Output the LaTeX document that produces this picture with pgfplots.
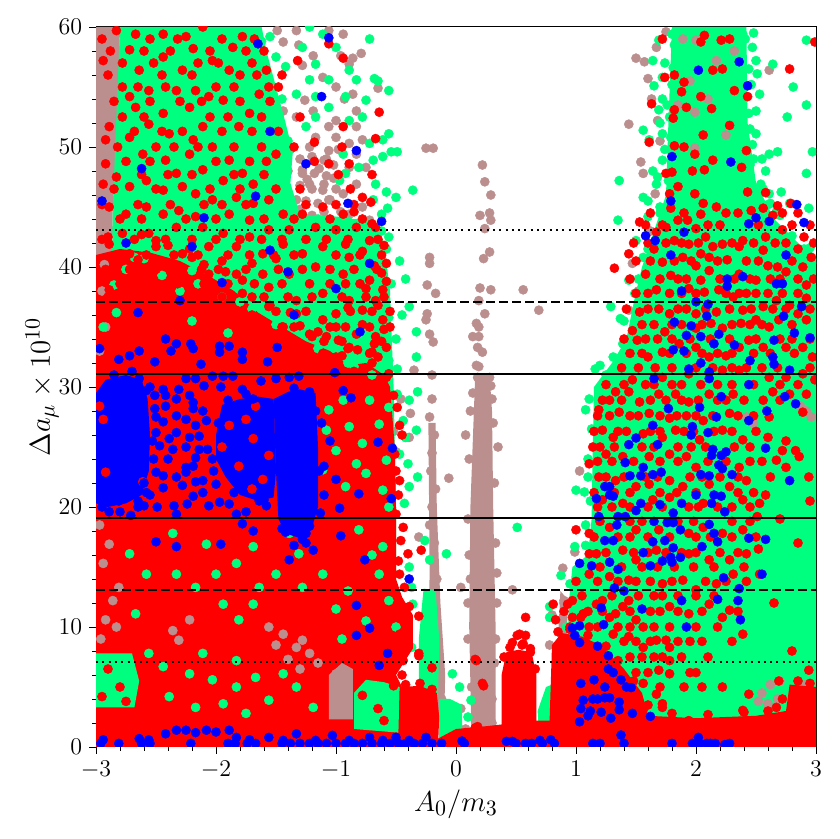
\documentclass[border=0pt]{standalone}
\usepackage{pgfplots}
\pgfplotsset{compat=1.18}
\definecolor{rb}{RGB}{188,143,143}
\definecolor{sg}{RGB}{0,255,127}
\definecolor{rr}{RGB}{255,0,0}
\definecolor{bb}{RGB}{0,0,255}
\pgfplotsset{dots/.style={only marks, mark=*, mark size=2.3pt, mark options={solid, line width=0.2pt}}}
\begin{document}
\begin{tikzpicture}
\begin{axis}[
 width=360pt, height=360pt, scale only axis,
 xmin=-3, xmax=3, ymin=0, ymax=60,
 xtick={-3,-2,-1,0,1,2,3}, ytick={0,10,20,30,40,50,60},
 minor x tick num=4, minor y tick num=4,
 tick align=outside, tick pos=left,
 major tick length=3.4pt, minor tick length=2pt,
 tick style={black, line width=0.4pt},
 axis line style={line width=0.5pt},
 clip marker paths=true,
 xlabel={$A_0/m_3$}, ylabel={$\Delta a_\mu\times 10^{10}$},
 xlabel style={at={(axis description cs:0.5,-0.079)}, anchor=center, font=\fontsize{15}{18}\selectfont},
 ylabel style={at={(axis description cs:-0.075,0.5)}, anchor=center, font=\fontsize{15}{18}\selectfont},
 tick label style={font=\fontsize{11.5}{13}\selectfont},
]
% ---------- brown areas ----------
\addplot[fill=rb, draw=none] coordinates {(-3,0) (-2.9,0) (-2.9,20) (-2.88,32) (-2.86,45) (-2.82,52) (-2.8,60) (-3,60)};
\addplot[fill=rb, draw=none] coordinates {(0.13,0.5) (0.33,0.5) (0.33,10) (0.31,20) (0.3,28) (0.28,31) (0.16,31) (0.12,20) (0.11,10)};
\addplot[fill=rb, draw=none] coordinates {(-0.23,2) (-0.1,2) (-0.09,6) (-0.13,12) (-0.16,20) (-0.17,27) (-0.23,27) (-0.22,15)};
\addplot[fill=rb, draw=none] coordinates {(0.83,6) (0.92,6) (0.93,12.3) (0.87,13) (0.85,9)};
% ---------- brown points ----------
\addplot[dots, color=rb] coordinates {
(-2.85,58) (-2.82,55) (-2.84,51) (-2.86,47) (-2.87,43) (-2.88,38) (-2.9,34) (-2.78,57) (-2.75,59.5)
(-1.49,59.7) (-1.44,58.75) (-1.33,59.7) (-1.31,58.5) (-1.19,57.6) (-1.06,59.7) (-0.94,59.4) (-0.96,57.6)
(-0.86,57.4) (-0.89,56.9) (-0.79,57.8) (-1.28,56.8) (-1.11,55.8) (-1.0,55) (-0.93,54) (-0.86,54.4)
(-0.83,53) (-0.65,54.9) (-1.26,53.9) (-1.19,53) (-1.33,52.5) (-1.06,51.7) (-1.0,50.8) (-1.17,50.8)
(-1.22,50) (-1.06,49.7) (-0.89,50.3) (-0.78,50.6) (-1.0,52.2) (-0.83,51.7) (-1.08,49) (-0.83,49.4)
(-0.89,48.3) (-0.75,48.3) (-1.28,47.8) (-1.22,46.9) (-1.11,46.4) (-1.06,45.6) (-0.94,46.1) (-0.83,46.9)
(-0.78,45) (-0.89,44.4) (-0.72,43.9) (-0.83,42.8) (-0.75,41.7) (-0.69,40.6) (-0.64,39.4) (-1.44,46.9)
(-1.33,45.6) (-1.56,55.3) (-1.61,53.6) (-1.44,53) (-1.75,57.2) (-1.38,49.8) (-0.98,49.8) (-1.36,44.2)
(-0.96,44.6) (-1.4,48)
(-1.3,49) (-1.2,49.2) (-1.1,48.9) (-1.02,48.5) (-1.28,48.1) (-1.18,47.8) (-1.08,47.6) (-1.3,46.8)
(-1.2,46.5) (-1.1,46.9) (-1.0,46.5) (-1.25,45.5) (-1.15,45.3) (-1.05,45.6) (-1.3,44.8) (-1.1,44.6)
(-1.2,44.3) (-1.02,47.4) (-1.14,48.2) (-1.24,47.3)
(-0.25,49.9) (-0.19,49.9) (-0.22,40.8) (-0.22,40.3) (-0.24,38.5) (-0.17,37.8) (-0.24,36.1) (-0.25,35.6)
(-0.22,34.4) (-0.19,33.75) (-0.35,31.4) (-0.2,31) (-0.2,29) (-0.22,27.5) (-0.18,26) (-0.2,24.5) (-0.21,23)
(-0.17,21.5) (-0.2,20) (-0.22,18.5) (-0.18,17) (-0.2,15.5) (-0.16,14) (-0.21,12.5) (-0.18,11) (-0.2,9.5)
(-0.17,8) (-0.12,4) (-0.08,3) (-0.1,1.5)
(-0.68,29.5) (-0.62,28.2) (-0.57,27) (-0.6,25.5) (-0.52,26.3) (-0.5,24.6) (-0.42,25.8) (-0.46,29) (-0.38,27.8)
(-0.64,28.3) (-0.39,25.8) (-0.06,22.4) (-0.31,17.5)
(0.22,48.5) (0.24,47.1) (0.29,46) (0.2,44.3) (0.28,44.5) (0.29,43.9) (0.24,43.2) (0.28,41.25) (0.23,40.7)
(0.2,38.25) (0.29,38.1) (0.56,38.1) (0.69,36.4) (0.19,37.2) (0.24,36.1) (0.17,35.3) (0.19,35) (0.14,34.2)
(0.19,34.2) (0.18,33.3) (0.22,32.9) (0.17,31.8) (0.19,31.7) (0.18,30.8) (0.28,30.8) (0.29,30.1)
(0.12,28) (0.31,27) (0.11,24) (0.32,22) (0.1,19) (0.33,17) (0.12,14) (0.34,12) (0.1,9) (0.32,7) (0.13,5)
(0.3,4) (0.04,13.3) (0.47,13.1) (1.03,23) (0.89,14.9) (0.99,16.25) (0.9,12.2) (0.08,26) (0.35,25)
(0.08,1.5) (0.04,3.2) (0.3,2) (0.24,1.2) (0.14,29.5) (0.3,29) (0.11,16) (0.34,14.5) (0.1,12) (0.33,9)
(1.44,51.9) (1.5,57.4) (1.57,57.1) (1.6,55.7) (1.63,54) (1.68,52.2) (1.67,58.3) (1.75,59.6) (1.54,48.75)
(1.56,47.8) (1.66,46.1) (1.47,40.3) (1.44,36.4) (1.36,31.7) (2.38,46.1) (2.4,45) (1.62,43) (1.52,38)
(2.61,56.4) (1.7,50.5) (0.8,11) (0.78,8.5) (0.84,6.5) (0.9,12)
};
% ---------- green areas ----------
\addplot[fill=sg, draw=none] coordinates {(-2.92,0) (-0.5,0) (-0.5,20) (-0.52,30) (-0.55,38) (-0.6,42) (-0.7,44) (-0.85,44) (-0.98,44.2) (-1.3,44.3) (-1.38,47) (-1.36,49.6) (-1.42,52) (-1.5,55) (-1.58,58) (-1.62,60) (-2.8,60) (-2.82,55) (-2.86,45) (-2.88,32) (-2.9,20)};
\addplot[fill=sg, draw=none] coordinates {(-0.31,4) (-0.15,4) (-0.14,9) (-0.17,13) (-0.27,13.2) (-0.31,9)};
\addplot[fill=sg, draw=none] coordinates {(-0.14,0.7) (0.05,0.7) (0.05,3.5) (-0.05,4) (-0.14,4)};
\addplot[fill=sg, draw=none] coordinates {(0.7,0) (0.68,3) (0.75,5) (0.88,5.5) (0.93,8) (0.94,12) (0.97,15) (1.1,16) (1.13,19) (1.14,25) (1.15,30) (1.3,32) (1.42,34) (1.48,37) (1.55,40) (1.65,43) (1.75,46) (1.77,52) (1.8,60) (2.42,60) (2.43,52) (2.5,47) (2.65,44) (2.85,42) (3,41) (3,0)};
% brown showing through green
\addplot[dots, color=rb] coordinates {
(2.55,4.5) (2.62,5.2) (2.68,4) (2.6,3.6) (2.52,3.8) (2.7,5.5) (2.95,4.5) (2.92,5.2)
(1.99,52.9) (1.99,49.9) (2.17,57.2) (1.89,59) (2,58.9) (2.1,54) (1.85,53.5) (2.25,51) (1.95,55.5) (2.32,58)
(2.42,27.5) (2.48,27) (2.92,28) (2.96,27.5) (2.87,28.4)
};
% ---------- green points ----------
\addplot[dots, color=sg] coordinates {
(-0.72,59) (-0.68,55.7) (-0.65,55.5) (-0.56,54.7) (-0.75,53.9) (-0.83,55.6) (-0.92,54.2) (-1.06,53.3)
(-1.17,52.5) (-1.25,51.7) (-0.56,51.1) (-0.61,50.6) (-0.72,50.3) (-0.54,49.6) (-0.49,49.6) (-0.61,49.2)
(-0.69,48.9) (-0.81,48.3) (-0.92,47.8) (-0.97,47.2) (-0.36,46.4) (-0.5,45.8) (-0.58,46.25) (-0.67,46.9)
(-0.69,45.6) (-0.57,44.9) (-0.62,44.4) (-0.56,42.5) (-0.58,41.5) (-0.42,39) (-0.54,38.6) (-0.39,36.7)
(-0.56,35.8) (-0.33,34.6) (-0.33,32.5) (-0.49,31.5) (-0.56,32.2) (-1.22,60) (-1.11,59.4) (-1.0,58.3)
(-1.17,56.9) (-1.22,55.6) (-1.33,54.4) (-1.42,56.7) (-1.28,58.3) (-0.89,56.4) (-1.06,55.6) (-1.17,54.2)
(-0.89,52.2) (-0.78,52.5) (-0.94,49.4) (-0.47,40.5) (-0.5,34) (-0.45,36) (-1.5,57.5) (-1.45,54)
(-1.48,51) (-1.55,59.2) (-1.4,50.5) (-1.45,46) (-1.15,44) (-0.9,43.8) (-0.62,43) (-1.6,56.4)
(-1.52,53.2) (-1.42,48.8) (-1.62,58.8)
(-0.49,29.4) (-0.39,28.9) (-0.32,29.6) (-0.44,27.2) (-0.42,25.8) (-0.33,26.4) (-0.47,24.4) (-0.4,23.6)
(-0.32,22.5) (-0.39,21.7) (-0.43,20.3) (-0.26,17.2) (-0.08,16.1) (-0.22,15.6) (-0.39,15) (-0.37,13.3)
(-0.36,11.9) (-0.4,10) (-0.37,8.3) (-0.22,6.1) (-0.03,6.1) (0.51,18.3) (0.125,3.9) (0.03,5) (0.1,2.5)
(1.36,47.2) (1.35,43.9) (1.29,36.7) (1.37,35.7) (1.44,38.9) (1.49,37.8) (1.39,33.6) (1.31,32.5) (1.46,33.9)
(1.56,40.8) (1.5,42.2) (1.6,44.2) (1.56,45.8) (1.67,46.9) (1.64,48) (1.72,48.9) (1.61,50.6) (1.72,51.1)
(1.56,51.4) (1.69,53.1) (1.65,55.1) (1.72,55.8) (1.64,57.2) (1.69,58.9) (1.8,59.4) (1.83,58.1)
(1.72,54) (1.74,49.8) (1.68,47.5) (1.6,45.5) (1.7,44.5) (1.74,57) (1.78,52.5) (1.7,52)
(1.77,47.2) (1.79,50.8) (1.8,55.2) (1.82,58.5) (1.76,53.5) (1.81,56.6)
(2.41,59) (2.44,56.5) (2.42,54.2) (2.45,51.5) (2.48,49) (2.56,46.5) (2.7,44.3) (2.8,42.6) (2.95,41.6) (2.62,45.3)
(2.64,56.9) (2.92,58.9) (2.81,55) (2.76,52.5) (2.92,53.5) (2.68,49.6) (2.61,49.4) (2.97,49.6) (2.92,47.8)
(2.44,52.8) (2.5,51.1) (2.53,54.4) (2.51,56.1) (2.47,58.3) (2.39,59.4) (2.54,46.9) (2.61,46.1) (2.71,46.25)
(2.78,45.3) (2.94,44.9) (2.67,44.6) (2.5,45.6) (2.9,41.5) (2.97,40.5) (2.55,49) (2.5,42.5) (2.7,43)
(2.48,59.5) (2.5,57.2) (2.46,55.2) (2.5,53) (2.47,50.2) (2.58,48) (2.6,45.2) (2.45,48.5) (2.52,44)
(1.08,28.1) (1.0,21.4) (1.07,21.25) (0.875,14.3) (0.99,16.7) (0.78,11.7) (0.78,10.8) (1.1,24) (1.08,18.5)
(1.25,31) (1.4,35.5) (1.52,39) (1.6,41.5) (1.7,45) (1.12,20.5) (1.1,22.5) (1.13,26.5) (1.11,29) (1.16,31.5)
(1.2,31.8) (1.08,16.8) (0.95,13.6) (0.92,10)
};
% ---------- red areas ----------
\addplot[fill=rr, draw=none] coordinates {(-3,0) (-0.15,0) (-0.14,2.5) (-0.16,4.5) (-0.3,5.1) (-0.45,5) (-0.5,6) (-0.36,8.2) (-0.36,11) (-0.45,12.5) (-0.5,14) (-0.5,20) (-0.51,25) (-0.55,30) (-0.6,31) (-0.75,32) (-0.9,31.8) (-1.05,33) (-1.25,33.8) (-1.45,35) (-1.65,36.2) (-1.85,38) (-2.05,39.2) (-2.3,40.5) (-2.55,41.2) (-2.8,41.5) (-3,41)};
\addplot[fill=rr, draw=none] coordinates {(0.38,0) (0.67,0) (0.67,6) (0.63,7.9) (0.52,8.1) (0.42,7.9) (0.38,6)};
\addplot[fill=rr, draw=none] coordinates {(0.66,0) (3,0) (3,5) (2.78,5.2) (2.75,3) (2.5,2.6) (2.0,2.4) (1.6,2.6) (1.55,4.5) (1.4,6.5) (1.2,8.5) (1.05,9.2) (0.88,9.5) (0.8,8.5) (0.78,2.2) (0.66,2.2)};
\addplot[fill=rr, draw=none] coordinates {(-0.15,0) (0.4,0) (0.4,1.9) (0.22,1.7) (0.0,1.5) (-0.15,0.7)};
% green / brown showing through the red
\addplot[fill=sg, draw=none] coordinates {(-3,3.3) (-2.68,3.3) (-2.64,5.5) (-2.7,7.8) (-3,7.8)};
\addplot[fill=sg, draw=none] coordinates {(-0.85,1.5) (-0.48,1.2) (-0.47,5) (-0.6,5.4) (-0.75,5.6) (-0.85,4.5)};
\addplot[fill=rb, draw=none] coordinates {(-1.06,2.3) (-0.86,2.3) (-0.86,6.5) (-0.95,7) (-1.06,6)};
\addplot[dots, color=rb] coordinates {
(-2.89,16.9) (-2.94,15.3) (-2.86,12.2) (-2.92,10.6) (-2.22,10.6) (-2.36,9.7) (-1.44,9.4) (-1.33,8.3)
(-1.28,8.9) (-1.56,10) (-1.22,7.8) (-1.0,6.1) (-0.94,5) (-2.31,8.9) (-2.81,13.3) (-2.83,10) (-2.97,18.5)
(-2.96,9) (-2.92,35) (-2.97,33) (-1.5,8.5) (-1.4,7.3) (-1.15,7) (-1.3,6.5) (-2.95,38) (-2.93,40.2)
};
\addplot[dots, color=sg] coordinates {
(-1.06,28.1) (-1.08,26.4) (-0.89,26.7) (-1.0,24.7) (-0.78,25.3) (-0.64,26.9) (-0.58,23.9) (-0.75,22.8)
(-0.61,21.4) (-1.11,23.1) (-0.92,21.7) (-0.56,20) (-0.94,28.9) (-0.72,28.9) (-0.56,28.3) (-0.83,23.6)
(-2.36,17.8) (-2.33,14.4) (-2.08,16.9) (-2.0,14.4) (-1.83,15.3) (-1.69,16.7) (-1.64,13.3) (-1.5,14.4)
(-1.39,17.8) (-1.31,16.1) (-1.11,14.4) (-1.28,13.3) (-1.69,11.9) (-1.81,10.6) (-1.94,11.9) (-2.17,13.3)
(-2.67,11.1) (-2.58,14.4) (-2.72,16.1) (-0.81,18.1) (-0.61,16.7) (-0.64,14.4) (-0.56,12.2) (-0.5,10)
(-2.56,7.8) (-2.44,6.7) (-2.22,6.1) (-2.03,5.6) (-1.83,5) (-1.67,5.8) (-1.56,3.9) (-1.33,5) (-1.19,3.3)
(-1.94,3.6) (-2.17,3.3) (-2.39,4.2) (-1.75,2.8) (-1.44,6.1) (-2.11,7.8) (-1.83,7.2)
(-2.94,35) (-2.83,36.2) (-1.39,35.6) (-1.22,34.5) (-0.9,32) (-0.7,31) (-2.2,35.5) (-1.9,34.5)
(-0.7,16) (-0.9,13) (-0.75,10.5) (-1.0,11.5) (-0.95,9)
(-2.75,39.8) (-2.45,39.3) (-2.15,38.6) (-2.6,40.7) (-1.95,37.5) (-2.3,38) (-1.7,36.5) (-2.85,38.5)
(-2.68,40.8) (-2.2,39.7) (-1.8,37.1) (-1.5,35.2) (-1.15,33.2) (-0.85,31.7)
};
% ---------- red points ----------
\addplot[dots, color=rr] coordinates {
(-2.83,59.7) (-2.67,59.4) (-2.44,59.4) (-2.25,59.2) (-2.11,60) (-1.86,58.3) (-1.78,59.2) (-2.19,58.2)
(-2.44,57.5) (-2.64,56.4) (-2.94,57.2) (-2.72,58.1) (-2.03,57.2) (-2.28,56.4) (-1.89,56.4) (-1.58,56.4)
(-1.32,57.2) (-1.06,58.6) (-0.94,57.4) (-2.78,55) (-2.56,54.7) (-2.33,54.7) (-2.17,54.7) (-2.06,54.2)
(-1.94,53.9) (-1.64,54.4) (-1.56,55) (-2.72,54.2) (-2.67,53.3) (-2.44,52.8) (-2.22,53.3) (-1.72,52.8)
(-0.64,52.9) (-0.94,51.7) (-0.67,50.7) (-1.18,50.4) (-2.89,51.7) (-2.56,51.9) (-2.39,51.1) (-2.19,50.6)
(-2.11,51.7) (-2.03,50) (-1.81,51.7) (-2.92,50.6) (-2.72,50.8) (-2.61,49.4) (-2.42,48.9) (-2.22,49.4)
(-2.33,47.8) (-2.11,48.1) (-1.89,48.9) (-1.78,47.8) (-1.94,47.2) (-1.69,46.9) (-1.5,49.4) (-1.06,48.6)
(-0.89,48.6) (-0.78,45.8) (-0.71,45.4) (-2.92,48.6) (-2.83,47.5) (-2.94,46.9) (-2.72,46.7) (-2.58,47.2)
(-2.44,46.4) (-2.28,46.7) (-2.17,46.1) (-2.03,45.6) (-1.83,45.8) (-1.69,45.3) (-1.56,45.6) (-1.44,44.4)
(-1.28,44.4) (-1.11,45) (-0.94,44.4) (-2.89,45) (-2.75,44.4) (-2.58,45) (-2.44,44.4) (-2.31,44.7)
(-2.17,44.2) (-1.89,44.4) (-1.72,43.9) (-0.67,43.3) (-0.58,40.3) (-1.11,41.7) (-0.89,40.8) (-0.72,42.2)
(-1.28,41.1) (-1.44,41.9) (-1.61,41.1) (-1.83,41.7) (-2.06,41.7) (-2.28,41.1) (-2.5,41.7) (-2.72,41.1)
(-2.89,41.9) (-2.78,42.8) (-2.56,42.8) (-2.33,43.3) (-2.11,43.3) (-1.94,42.8) (-1.72,42.5) (-1.56,43.1)
(-1.39,43.1) (-1.17,43.3) (-1.0,43.1) (-0.83,43.3) (-2.83,40) (-2.61,39.4) (-2.39,40) (-2.06,39.4)
(-1.83,39.4) (-1.61,39.4) (-1.39,39.4) (-1.17,40) (-0.94,39.4) (-0.72,38.9) (-0.61,38.1) (-2.89,38.1)
(-2.67,38.1) (-2.44,38.3) (-2.22,38.3) (-2.0,38.1) (-1.78,37.8) (-1.56,38.3) (-1.33,37.2) (-1.11,37.8)
(-0.89,37.2) (-0.67,37.2) (-1.56,36.7) (-1.33,36.1) (-1.11,35.6) (-1.0,36.1) (-0.78,36.4) (-0.61,35.6)
(-1.44,35) (-1.22,34.4) (-1.0,35) (-0.83,34.4) (-0.67,34.2) (-1.33,33.3) (-1.11,32.8) (-0.89,33.3)
(-0.72,32.8) (-0.58,33.3) (-0.56,31.1) (-0.78,31.1) (-1.06,30.8) (-0.61,30)
(-2.5,42.2) (-2.2,40.8) (-1.95,40.5) (-2.65,40.6) (-2.95,39.2) (-1.7,40.3) (-1.5,40.7) (-2.35,39) (-2.1,37.3)
(-2.9,37.5) (-2.7,38) (-2.4,37.9) (-2.2,37.2) (-1.9,36.9) (-1.7,36) (-1.45,35) (-1.2,34.2) (-0.9,33.2)
(-0.7,32) (-0.58,30.8)
(-2.9,42.5) (-2.62,42.7) (-2.4,41.8) (-2.22,41.5) (-2.1,40.2) (-1.92,39.6) (-1.78,38.9) (-1.7,37.5)
(-1.55,36.8) (-1.38,36.2) (-1.3,35.1) (-1.15,34.6) (-0.98,33.9) (-0.82,33.1) (-0.7,32.9)
(-0.49,28.3) (-0.51,24.4) (-0.47,22.2) (-0.5,19.4) (-0.44,18.3) (-0.4,16.1) (-0.47,14.4) (-0.43,13.3)
(-0.39,11.7) (-0.47,9.4) (-0.44,7.2) (-0.31,7.8) (-0.29,16.4) (-0.45,26) (-0.48,21) (-0.31,10.9)
(-0.31,7.6) (-0.43,8.7) (-0.45,6) (-0.52,5.1) (-0.2,6.6) (0.16,7.3) (0.23,5.1) (0.16,1.6) (-0.2,4.8)
(-0.3,5.3) (-0.42,5.2) (-0.78,4.3) (-0.65,3.2) (-0.6,2.2) (-2.8,5) (-2.75,3.8) (-2.9,6.5) (-2.95,4.2)
(-1.9,4.5) (-1.6,5) (-2.3,5.2) (-1.2,5.5) (-2.05,3) (-1.4,3.2) (-0.48,15.5) (-0.46,17.2) (-0.5,23)
(-0.47,26.8) (-0.52,29.3)
(0.58,10.8) (0.51,9.3) (0.58,9.3) (0.56,8.6) (0.4,7.5) (0.45,8.3) (0.55,8.5) (0.62,8.2) (0.66,6.5)
(0.47,8.7) (0.53,9.4) (0.62,7.9) (0.17,7.2) (0.22,5.3) (0.18,1.7) (0.0,0.8) (0.08,1.2) (0.3,0.8)
(0.85,9.6) (0.95,9.8) (1.1,9.3) (1.25,8.4) (1.35,7.2) (1.48,5.5) (1.6,3.5) (1.8,2.8) (2.1,2.7) (2.4,2.9)
(2.6,3) (2.72,4) (2.85,5.5) (2.95,5.3) (0.81,11.9) (0.83,10.6) (0.93,11.9) (0.97,10.8) (1.04,10.8)
(0.97,12.2) (1.06,11.1) (1.17,11.9) (1.28,10.8) (1.39,11.7) (1.5,10.6) (1.11,10) (1.31,9.4) (0.97,8.9)
(1.44,9.2) (1.67,8.9) (1.78,7.2) (1.72,7.5) (1.69,6.4) (1.78,6.1) (1.56,5.3) (1.67,4.4) (1.56,3.1)
(1.72,3.3) (1.94,2.2) (2.22,5) (2.44,4.4) (2.39,3.05) (2.67,3.3) (2.94,6.4) (2.69,5.5) (0.86,7) (0.9,8.5)
(1.72,59) (2.07,59.3) (2.04,58.75) (2.21,58.9) (2.28,59) (2.99,58.75) (2.14,56.4) (2.22,56.5) (2.78,56.5)
(1.74,55.8) (1.82,56) (1.9,55.4) (1.88,54.6) (2.32,54.7) (2.04,54.2) (2.43,54.2) (1.63,53.6) (1.92,53.3)
(2.13,53.2) (1.82,53.1) (1.81,52.4) (2.28,51.8) (2.06,51) (1.61,50.4) (1.82,50.1) (1.9,50) (1.99,49.4)
(2.42,49.7) (2.14,48.9) (1.97,48) (2.07,48.1) (2.38,48.3) (1.75,47.8) (1.8,47.9) (1.85,46.7) (2.43,46.25)
(2.58,46.2) (1.99,46.1) (1.78,46.1) (2.06,45.3) (2.17,45) (2.46,44.7) (2.56,44.9) (2.68,45.1) (2.79,45.3)
(1.79,44.9) (2.04,44.4) (1.85,43.9) (1.53,43.75) (1.93,43.9) (1.75,43.3) (2.0,43.2) (2.64,44.3) (2.72,43.1)
(2.58,42.5) (2.9,42.5) (1.67,42.9) (1.82,42.2) (1.94,41.9) (2.08,42.5) (2.14,41.7) (2.22,41.9) (2.39,42.2)
(2.56,41.4) (1.65,41.5) (2.85,41.5) (1.44,41.1) (2.04,41.1) (1.89,40.8) (2.11,40.8) (2.26,40.6) (2.36,41.7)
(1.72,40.4) (1.32,39.9) (2.6,40.1) (2.68,40) (2.89,40) (2.96,40.8) (2.0,40.1) (1.58,39.4) (1.79,39.3)
(1.92,39) (2.04,38.9) (2.11,39.7) (2.36,39.4) (2.5,38.9) (2.75,39.6) (2.85,39) (2.92,38.5) (1.67,38.1)
(1.78,37.8) (1.94,38.2) (2.07,37.9) (2.19,38.1) (2.31,37.5) (2.42,37.8) (2.6,37.8) (2.67,37.2) (2.78,36.8)
(2.92,37.4) (1.53,36.25) (1.69,36.5) (1.78,36.1) (2.0,36.1) (2.17,36.25) (2.39,36.4) (2.56,36.7) (2.85,36.1)
(1.47,34.7) (1.51,33.9) (1.74,34.6) (2.0,34.9) (2.125,35.3) (2.22,34.9) (2.375,35.3) (2.5,35.6) (2.61,35)
(2.69,35.6) (2.92,35.6) (1.6,32.5) (1.72,32.9) (1.86,33.6) (2.0,33.3) (2.11,32.5) (2.25,32.6) (2.36,33.3)
(2.44,33.9) (2.56,33.3) (2.75,33.3) (2.89,33.3) (2.97,32.5) (1.47,30.6) (1.72,30.8) (1.94,31.1) (2.22,31.4)
(2.36,31.4) (2.61,30.8) (2.75,30.8) (2.89,31.1) (2.99,30.6)
(1.33,29.6) (1.44,29.6) (1.53,28.75) (1.69,29.4) (1.83,29.4) (1.94,28.75) (2.11,29.4) (2.31,29.4) (2.56,28.9)
(2.64,29.6) (2.78,29.4) (2.92,29.4) (1.19,28.1) (1.36,27.9) (1.61,27.8) (1.78,27.4) (1.92,27.6) (2.06,27.2)
(2.28,27.8) (2.61,27.5) (2.89,27.9) (1.22,26.4) (1.31,25.8) (1.56,26.1) (1.72,25.8) (1.83,26.4) (2.03,25.6)
(2.22,26.4) (2.39,25.6) (2.6,25.8) (2.72,24.7) (2.83,24.7) (2.86,24.2) (1.14,25) (1.25,24.4) (1.39,24.2)
(1.61,24.2) (1.78,24.4) (1.92,24.2) (2.0,23.3) (2.36,23.3) (2.42,22.2) (2.67,23.9) (2.75,23.3) (2.94,22.5)
(1.11,23.6) (1.19,22.5) (1.33,22.2) (1.5,21.7) (1.61,21.9) (1.78,22.2) (1.89,21.7) (2.11,21.9) (2.28,21.7)
(2.39,20.6) (2.53,20.3) (1.22,20.6) (1.39,20.3) (1.64,20.6) (1.78,20.8) (1.94,20.0) (2.06,20.3) (1.11,17.8)
(1.28,18.3) (1.5,18.1) (1.69,18.1) (1.94,17.8) (2.06,18.3) (2.22,17.8) (2.39,18.1) (2.51,19.2) (1.17,16.1)
(1.39,16.4) (1.5,15.6) (1.67,16.4) (1.94,16.1) (2.11,15.6) (2.28,15.6) (2.42,16.1) (2.53,14.4) (1.11,14.4)
(1.28,14.2) (1.44,13.9) (1.72,13.6) (1.89,13.9) (2.0,13.1) (2.17,13.6) (2.31,14.4) (1.22,12.2) (1.33,11.1)
(1.44,12.2) (1.56,10.0) (1.78,11.7) (1.94,11.1) (2.11,11.9) (2.22,10.8) (2.28,11.4) (2.39,9.4) (1.56,8.3)
(1.75,8.9) (1.72,3.6) (1.78,8.3) (1.0,18.1) (1.11,16.1) (2.65,12) (2.8,8) (2.58,21) (2.7,19) (2.85,17)
(2.95,20.5) (2.75,25.5) (2.52,16.5)
};
% more red points, upper left block
\addplot[dots, color=rr] coordinates {
(-2.95,59) (-2.55,59) (-2.32,59) (-1.95,59) (-1.68,59)
(-2.88,58) (-2.6,58) (-2.38,58) (-2.05,58) (-1.75,58) (-1.6,58)
(-2.78,57) (-2.52,57) (-2.15,57) (-1.98,57) (-1.7,57)
(-2.9,56) (-2.45,56) (-2.2,56) (-1.8,56) (-1.66,56) (-1.45,56)
(-2.65,55) (-2.42,55) (-2.0,55) (-1.85,55) (-1.48,55)
(-2.85,53.8) (-2.55,53.8) (-2.3,53.8) (-2.12,53.8) (-1.8,53.8) (-1.55,53.8)
(-2.78,52.5) (-2.6,52.5) (-2.05,52.5) (-1.9,52.5) (-1.62,52.5) (-1.3,52.5)
(-2.68,51.3) (-2.45,51.3) (-2.28,51.3) (-1.95,51.3) (-1.7,51.3) (-1.48,51.3)
(-2.82,50) (-2.5,50) (-2.35,50) (-2.15,50) (-1.85,50) (-1.62,50) (-1.35,50) (-0.95,50)
(-2.75,48.8) (-2.55,48.8) (-2.0,48.8) (-1.72,48.8) (-1.58,48.8) (-1.18,48.8)
(-2.62,47.7) (-2.4,47.7) (-2.2,47.7) (-1.85,47.7) (-1.6,47.7) (-0.98,47.7) (-0.7,47.7)
(-2.85,46.5) (-2.5,46.5) (-2.05,46.5) (-1.8,46.5) (-1.5,46.5) (-1.3,46.5) (-0.88,46.5)
(-2.95,45.2) (-2.65,45.2) (-2.38,45.2) (-2.1,45.2) (-1.95,45.2) (-1.75,45.2) (-1.25,45.2) (-1.0,45.2) (-0.85,45.2)
(-2.8,44) (-2.62,44) (-2.25,44) (-2.0,44) (-1.6,44) (-1.35,44) (-1.05,44) (-0.78,44)
(-2.95,42.3) (-2.68,42.3) (-2.42,42.3) (-2.2,42.3) (-2.0,42.3) (-1.8,42.3) (-1.62,42.3) (-1.45,42.3) (-1.25,42.3) (-1.08,42.3) (-0.9,42.3) (-0.65,42.3)
(-2.8,41) (-2.58,41) (-2.35,41) (-2.15,41) (-1.9,41) (-1.72,41) (-1.52,41) (-1.35,41) (-1.0,41) (-0.8,41) (-0.62,41)
(-2.92,39.8) (-2.72,39.8) (-2.5,39.8) (-2.28,39.8) (-2.12,39.8) (-1.98,39.8) (-1.75,39.8) (-1.48,39.8) (-1.28,39.8) (-1.05,39.8) (-0.85,39.8) (-0.66,39.8)
(-2.8,38.6) (-2.6,38.6) (-2.32,38.6) (-2.1,38.6) (-1.9,38.6) (-1.68,38.6) (-1.45,38.6) (-1.22,38.6) (-1.05,38.6) (-0.8,38.6)
(-2.6,37.5) (-1.95,37.5) (-1.6,37.5) (-1.4,37.5) (-1.2,37.5) (-0.95,37.5) (-0.75,37.5) (-0.6,37.5)
(-1.5,36.3) (-1.25,36.3) (-0.88,36.3) (-0.7,36.3) (-0.55,36.3)
(-1.6,35) (-1.35,35) (-1.05,35) (-0.92,35) (-0.72,35) (-0.55,35)
(-1.5,33.8) (-1.1,33.8) (-0.95,33.8) (-0.62,33.8) (-1.3,32.5) (-1.0,32.5) (-0.65,32.5)
(-1.05,31.5) (-0.95,32.6) (-0.85,31.3) (-0.68,33.6) (-0.6,34.8) (-0.78,35.2) (-0.9,36.6) (-1.08,34.2)
(-0.65,36.8) (-0.58,38.8) (-0.75,38.2) (-0.92,38.6) (-0.68,40.1) (-0.6,41.8) (-0.78,41.3) (-0.92,41.9)
(-0.7,43.6) (-0.85,44.6) (-0.62,39.5)
};
% more red points, right block
\addplot[dots, color=rr] coordinates {
(1.62,44.5) (1.9,44.5) (2.25,44.5) (2.35,44.5) (2.72,44.5) (2.85,44.5)
(1.58,43.5) (1.72,43.5) (2.1,43.5) (2.2,43.5) (2.52,43.5) (2.8,43.5) (2.95,43.5)
(1.48,42) (1.6,42) (1.75,42) (1.88,42) (2.02,42) (2.3,42) (2.48,42) (2.66,42) (2.75,42) (2.98,42)
(1.5,40.5) (1.62,40.5) (1.82,40.5) (1.96,40.5) (2.18,40.5) (2.42,40.5) (2.52,40.5) (2.8,40.5)
(1.45,39) (1.7,39) (1.85,39) (2.2,39) (2.32,39) (2.45,39) (2.62,39) (2.7,39) (2.98,39)
(1.5,37.8) (1.6,37.8) (1.88,37.8) (2.0,37.8) (2.25,37.8) (2.36,37.8) (2.5,37.8) (2.72,37.8) (2.85,37.8)
(1.42,36.5) (1.6,36.5) (1.85,36.5) (1.92,36.5) (2.08,36.5) (2.28,36.5) (2.46,36.5) (2.64,36.5) (2.75,36.5) (2.95,36.5)
(1.55,35.2) (1.65,35.2) (1.8,35.2) (1.88,35.2) (2.05,35.2) (2.3,35.2) (2.45,35.2) (2.55,35.2) (2.8,35.2)
(1.4,34) (1.58,34) (1.68,34) (1.8,34) (1.95,34) (2.12,34) (2.28,34) (2.5,34) (2.7,34) (2.8,34) (2.95,34)
(1.45,32.8) (1.55,32.8) (1.78,32.8) (1.92,32.8) (2.05,32.8) (2.18,32.8) (2.3,32.8) (2.48,32.8) (2.62,32.8) (2.82,32.8)
(1.38,31.6) (1.52,31.6) (1.66,31.6) (1.8,31.6) (2.0,31.6) (2.14,31.6) (2.3,31.6) (2.42,31.6) (2.55,31.6) (2.68,31.6) (2.95,31.6)
(1.25,30.2) (1.4,30.2) (1.58,30.2) (1.65,30.2) (1.8,30.2) (1.88,30.2) (2.04,30.2) (2.18,30.2) (2.3,30.2) (2.48,30.2) (2.7,30.2) (2.85,30.2)
(1.22,28.9) (1.28,28.9) (1.38,28.9) (1.62,28.9) (1.75,28.9) (1.88,28.9) (2.02,28.9) (2.18,28.9) (2.25,28.9) (2.4,28.9) (2.7,28.9)
(1.18,27.6) (1.28,27.6) (1.45,27.6) (1.52,27.6) (1.7,27.6) (1.84,27.6) (2.0,27.6) (2.14,27.6) (2.35,27.6) (2.48,27.6)
(1.15,26.3) (1.35,26.3) (1.42,26.3) (1.62,26.3) (1.7,26.3) (1.9,26.3) (1.98,26.3) (2.15,26.3) (2.3,26.3) (2.5,26.3)
(1.2,25) (1.32,25) (1.55,25) (1.65,25) (1.85,25) (1.96,25) (2.08,25) (2.32,25) (2.45,25)
(1.18,23.8) (1.3,23.8) (1.48,23.8) (1.7,23.8) (1.85,23.8) (2.1,23.8) (2.25,23.8) (2.45,23.8) (2.55,23.8)
(1.25,22.5) (1.4,22.5) (1.58,22.5) (1.68,22.5) (1.95,22.5) (2.05,22.5) (2.2,22.5) (2.35,22.5) (2.62,22.5)
(1.15,21.2) (1.32,21.2) (1.45,21.2) (1.7,21.2) (1.84,21.2) (2.0,21.2) (2.35,21.2) (2.48,21.2)
(1.18,20) (1.3,20) (1.45,20) (1.6,20) (1.72,20) (2.02,20) (2.18,20) (2.3,20) (2.45,20)
(1.2,18.8) (1.45,18.8) (1.55,18.8) (1.85,18.8) (1.98,18.8) (2.3,18.8) (2.45,18.8)
(1.15,17.5) (1.35,17.5) (1.45,17.5) (1.6,17.5) (1.78,17.5) (2.0,17.5) (2.12,17.5) (2.3,17.5) (2.5,17.5)
(1.25,16.2) (1.48,16.2) (1.6,16.2) (1.75,16.2) (1.88,16.2) (2.0,16.2) (2.2,16.2) (2.35,16.2)
(1.2,15) (1.38,15) (1.55,15) (1.68,15) (1.82,15) (1.98,15) (2.15,15) (2.4,15)
(1.0,13.8) (1.18,13.8) (1.35,13.8) (1.5,13.8) (1.62,13.8) (1.8,13.8) (2.08,13.8) (2.25,13.8) (2.42,13.8)
(1.05,12.6) (1.3,12.6) (1.52,12.6) (1.65,12.6) (1.72,12.6) (1.85,12.6) (2.0,12.6) (2.15,12.6)
(0.9,11.3) (1.1,11.3) (1.22,11.3) (1.45,11.3) (1.62,11.3) (1.7,11.3) (1.85,11.3) (2.05,11.3) (2.35,11.3)
(0.95,10) (1.18,10) (1.35,10) (1.45,10) (1.65,10) (1.78,10) (2.0,10) (2.18,10)
(1.4,8.8) (1.5,8.8) (1.62,8.8) (1.85,8.8) (1.95,8.8) (2.05,8.8) (2.3,8.8)
(1.45,7.5) (1.55,7.5) (1.65,7.5) (1.88,7.5) (2.1,7.5) (1.5,6.2) (1.6,6.2) (1.95,6.2) (2.0,6.2)
(1.7,5) (1.9,5) (2.05,5)
};
% ---------- blue areas ----------
\addplot[fill=bb, draw=none] coordinates {(-3,20.3) (-2.9,20) (-2.75,20.3) (-2.62,21) (-2.56,23) (-2.55,26) (-2.57,29) (-2.62,30.6) (-2.75,31) (-2.92,30.6) (-3,29.5)};
\addplot[fill=bb, draw=none] coordinates {(-1.52,29) (-1.4,29.6) (-1.3,29.8) (-1.17,29.5) (-1.15,25) (-1.15,20) (-1.2,18.3) (-1.3,17.4) (-1.42,17.8) (-1.48,19) (-1.5,23)};
\addplot[fill=bb, draw=none] coordinates {(-2.0,26) (-1.95,28.5) (-1.8,29) (-1.65,29.2) (-1.52,29) (-1.5,23) (-1.52,20.8) (-1.65,20.5) (-1.8,21) (-1.92,22.5) (-2.0,24)};
\addplot[dots, color=rr] coordinates {
(-1.89,26.8) (-1.69,25.7) (-1.81,23.4) (-1.61,22.3) (-1.94,21.8) (-1.67,28.4) (-1.56,24.3) (-1.75,27.3)
(-2.94,27.3) (-2.92,22.9) (-2.61,22.1) (-2.97,28.4) (-1.95,25) (-1.7,21.5)
};
% ---------- blue points ----------
\addplot[dots, color=bb] coordinates {
(-2.55,21) (-2.52,24) (-2.5,27.5) (-2.55,30) (-2.7,31.3) (-2.85,31) (-2.95,20) (-2.8,19.6) (-2.65,20)
(-2.53,25.5) (-2.6,22) (-1.98,27) (-2.02,23) (-1.9,28.9) (-1.75,29.4) (-1.85,21.2) (-1.6,20.6)
(-1.17,28) (-1.14,23) (-1.13,19.5) (-1.25,17.8) (-1.45,18.2) (-1.35,29.9)
(-2.97,33.2) (-2.81,32.3) (-2.72,32.6) (-2.64,33) (-2.51,32.1) (-2.42,34) (-2.33,33.6) (-2.21,33.6)
(-2.375,33) (-2.19,33.2) (-2.125,31.9) (-1.97,33.4) (-1.89,33.4) (-1.97,32.9) (-1.78,32.3) (-1.57,32.1)
(-1.49,33.3) (-1.78,32.9) (-2.89,30.25) (-2.64,30.7) (-2.51,29.3) (-2.58,29.7) (-2.44,29.8) (-2.42,29.3)
(-2.33,29) (-2.31,29.8) (-2.25,30.7) (-2.17,30.7) (-2.22,29.3) (-2.19,28.7) (-2.1,30.1) (-2.03,30.9)
(-1.94,30.9) (-1.86,30.9) (-1.96,30) (-1.78,29.8) (-1.69,29) (-1.625,30.5) (-1.5,30.7) (-1.39,30.8)
(-1.31,30.9) (-1.22,29.6) (-1.01,31.2) (-0.94,29.7) (-0.875,29.1) (-2.51,28.2) (-2.42,28.4) (-2.33,27.6)
(-2.19,28.2) (-2.11,28) (-2.08,27.2) (-2.44,27.1) (-2.25,27.3) (-2.5,26.2) (-2.33,26.2) (-2.17,26.8)
(-2.39,25.7) (-2.22,25.8) (-2.14,25.9) (-2.47,25.1) (-2.36,24.8) (-2.25,25) (-2.14,24.8) (-2.07,24.8)
(-2.17,24.1) (-2.03,24) (-2.4,24) (-2.5,22.9) (-2.25,23.3) (-2.19,23.4) (-2.44,22.6) (-2.33,22.5)
(-2.25,22.9) (-2.17,22.1) (-2.11,22.2) (-2.44,21.6) (-2.28,21.8) (-2.19,20.9) (-2.11,21.2) (-2.0,21.9)
(-2.58,21.2) (-2.65,20.5) (-2.6,20.1) (-2.49,20) (-2.35,20.1) (-2.24,20.25) (-2.33,19.4) (-2.06,20.1)
(-1.97,20.4) (-1.89,20.25) (-1.83,19.4) (-1.75,19.6) (-1.64,20.5) (-1.58,20.1) (-2.89,19.6) (-2.81,20.5)
(-2.71,19.3) (-2.5,17.1) (-1.96,16.9) (-1.78,18.6) (-1.69,18) (-1.39,18.4) (-1.22,18.4) (-1.42,17.9)
(-1.28,17.3) (-0.96,17.6) (-1.1,23.4) (-1.0,22.3) (-2.33,16.7) (-1.39,15.6) (-1.19,16.4) (-0.76,15.6)
(-0.65,25.4) (-0.53,24.9) (-0.54,20.7) (-0.81,21.1) (-0.97,19.9) (-0.39,14) (-0.83,11.8) (-0.72,9.9)
(-0.83,9.3) (-0.57,7.8) (-0.64,6.8) (-1.12,27) (-1.05,25.5) (-1.1,21) (-1.25,17) (-1.35,16.8)
(-2.65,36.2) (-2.3,37.2) (-1.95,38.7) (-1.4,39.6) (-2.75,42) (-2.1,44.1) (-1.67,45.9) (-1.25,48.6) (-0.83,49.7)
(-2.62,48.2) (-1.55,51.3) (-1.12,54.2) (-1.06,59.1) (-1.65,58.6) (-0.62,43.8) (-0.9,45.3) (-0.72,40.3)
(-2.2,41.7) (-1.55,41.4) (-2.95,45.5) (-1.0,38.2) (-0.8,34.6) (-1.35,36)
(-2.94,0.6) (-2.64,0.7) (-2.56,0.6) (-2.42,1.1) (-2.33,1.4) (-2.25,1.4) (-2.17,1.2) (-2.08,1.4) (-2.0,1.25)
(-1.89,1.4) (-1.83,0.8) (-1.72,0.6) (-1.56,0.8) (-1.44,0.55) (-1.33,1.1) (-1.17,0.55) (-1.03,0.97)
(-0.89,0.55) (-0.72,0.8) (-0.61,0.55) (-0.5,0.8) (-0.39,0.55) (-0.25,0.8) (-2.96,0.3) (-2.81,0.3)
(-2.62,0.3) (-2.55,0.3) (-2.21,0.3) (-1.9,0.3) (-1.84,0.3) (-1.74,0.3) (-1.67,0.3) (-1.45,0.3) (-1.38,0.3)
(-1.3,0.3) (-1.22,0.3) (-1.15,0.3) (-1.08,0.3) (-1.0,0.3) (-0.92,0.3) (-0.85,0.3) (-0.78,0.3) (-0.7,0.3)
(-0.62,0.3) (-0.55,0.3) (-0.48,0.3) (-0.42,0.3) (-0.35,0.3) (-0.28,0.3) (-0.2,0.3) (-0.12,0.3)
(0.05,0.5) (0.07,0.3) (0.42,0.47) (0.47,0.47) (0.5,0.3) (0.58,0.3) (0.63,0.3) (0.7,0.55) (0.72,0.3)
(0.79,0.6) (0.82,0.3) (1.14,0.3) (1.2,0.3) (1.4,0.3) (1.8,0.3) (1.97,0.3) (2.02,0.8) (2.03,0.3) (2.12,0.3)
(2.16,0.3) (2.28,0.3) (1.375,1)
(2.36,57.1) (2.02,56.4) (2.43,55.1) (1.8,49.2) (2.29,48.75) (1.79,45.5) (2.84,45.2) (2.5,44.1) (2.61,43.8)
(2.44,43.6) (2.9,43.7) (1.58,42.6) (1.66,42.2) (1.9,42.9) (1.79,41) (2.75,41) (2.26,39) (2.26,38.4)
(2.39,39.2) (2.67,38.6) (2.72,38.6) (1.88,38) (2.0,37.1) (2.1,36.9) (2.09,35.9) (1.82,35.4) (1.96,35.1)
(1.92,34.3) (2.04,34.2) (2.19,34.4) (2.73,35.9) (2.88,36.7) (2.82,34.5) (2.95,34.1) (2.65,33.9) (1.81,33.1)
(1.9,33) (2.15,33.6) (2.32,33.5) (2.45,32.2) (2.64,32.5) (2.65,31.9) (2.78,31.4) (2.04,32) (1.94,31.5)
(2.11,31.25) (2.11,30.7) (1.65,30.7) (2.44,30.2)
(1.77,28.2) (2.03,28.3) (2.17,27.5) (2.21,29.2) (2.44,27.2) (2.59,28) (2.74,29.2) (2.83,28.6) (1.64,26.8)
(1.97,26.7) (2.1,26.2) (1.96,26) (1.5,25.75) (1.44,25.2) (1.68,25.2) (2.14,24.8) (2.25,24.6) (2.13,24.3)
(2.21,24.3) (2.58,24.9) (1.41,23.7) (1.56,23.3) (2.19,23.5) (2.22,23.2) (1.45,22.6) (1.54,22.6) (1.64,22.7)
(1.71,22.9) (2.04,22.7) (2.11,22.6) (2.3,22.7) (2.78,22.2) (1.24,21.7) (1.28,21.7) (1.17,20.7) (1.28,21)
(1.31,20.9) (2.0,21) (2.15,21) (2.21,20.9) (1.54,20.3) (1.7,20.2) (1.88,20.3) (2.13,20.3) (1.5,19.7)
(1.81,19.5) (2.24,19.6) (1.19,19.2) (1.35,19.2) (1.41,19.2) (1.65,18.8) (1.76,18.7) (1.81,18.7) (1.34,18.5)
(2.11,18.55) (1.87,18.1) (2.15,17.8) (2.18,17.1) (2.44,17.4) (2.58,17.3) (1.24,17.2) (1.31,17.2) (1.64,17.1)
(1.74,17.2) (1.81,16.6) (2.05,16.7) (1.56,16.2) (1.72,15.5) (1.79,15.8) (1.87,15.8) (1.8,15.4) (1.28,15.4)
(1.62,15.1) (1.35,14.8) (1.13,15.1) (1.03,15.3) (2.55,14.4) (2.23,14.1) (1.32,13.25) (1.4,13) (2.36,13.2)
(2.18,12.3) (2.35,12.2) (1.88,12.2) (1.55,11.5) (1.21,11.6) (2.37,10.6) (1.92,10) (1.03,10.1) (0.97,9.9)
(0.99,9.3) (1.03,8.7) (1.23,10.2) (1.18,8.4) (1.27,7.6) (1.27,6.5) (1.31,6.2) (1.04,5.3) (1.15,5.6)
(1.24,5) (1.375,5.6) (1.42,5) (1.46,4.95) (1.06,3.9) (1.14,4) (1.18,4) (1.24,4.1) (1.28,4.1) (1.36,3.75)
(1.04,3.2) (1.1,2.6) (1.12,3) (1.21,2.9) (1.29,2.4) (1.36,3.1) (1.47,2.8) (1.03,2.1) (1.62,2.55)
(2.09,0.3) (2.24,0.2)
};
% ---------- reference lines ----------
\addplot[black, line width=1pt] coordinates {(-3,19.1) (3,19.1)};
\addplot[black, line width=1pt] coordinates {(-3,31.1) (3,31.1)};
\addplot[black, line width=1pt, dash pattern=on 4.6pt off 1.9pt] coordinates {(-3,13.1) (3,13.1)};
\addplot[black, line width=1pt, dash pattern=on 4.6pt off 1.9pt] coordinates {(-3,37.1) (3,37.1)};
\addplot[black, line width=1pt, dash pattern=on 1pt off 2.15pt] coordinates {(-3,7.1) (3,7.1)};
\addplot[black, line width=1pt, dash pattern=on 1pt off 2.15pt] coordinates {(-3,43.1) (3,43.1)};
\end{axis}
\pgfresetboundingbox
\path (-48pt,-46pt) rectangle (372pt,373.5pt);
\end{tikzpicture}
\end{document}
